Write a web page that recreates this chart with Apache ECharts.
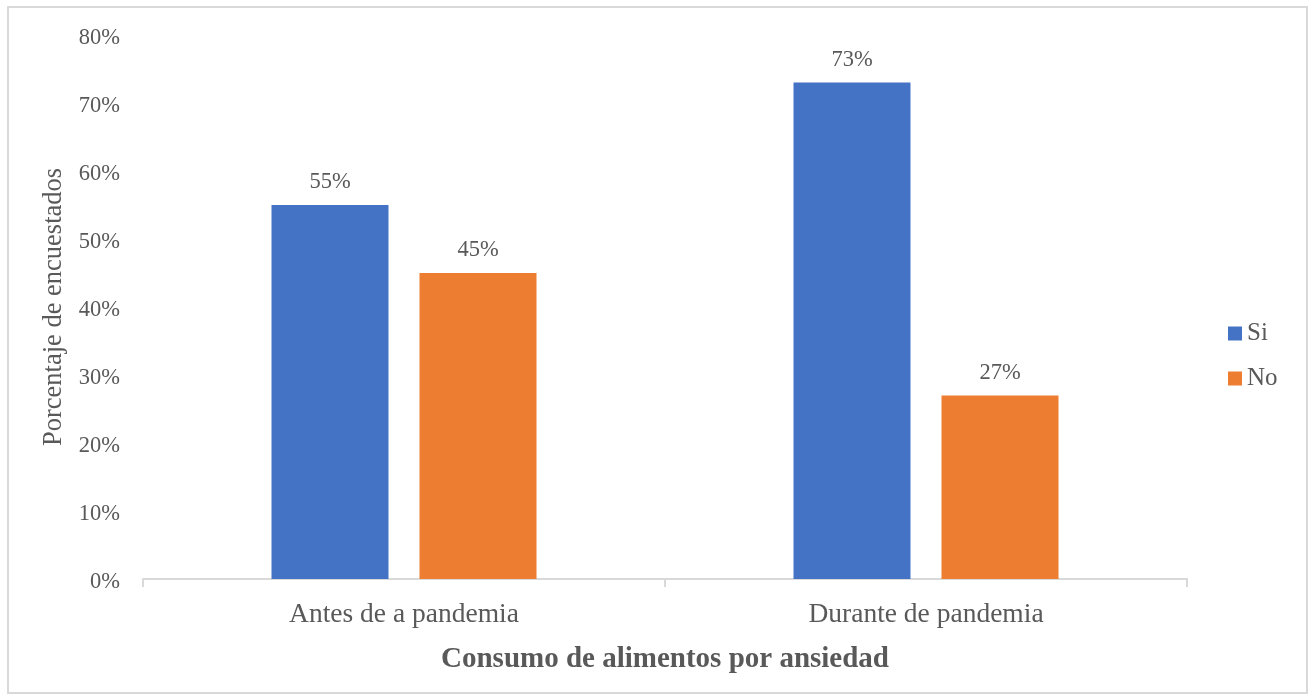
<!DOCTYPE html>
<html>
<head>
<meta charset="utf-8">
<script src="https://cdn.jsdelivr.net/npm/echarts@6/dist/echarts.min.js"></script>
<style>
  html, body { margin: 0; padding: 0; background: #fff; }
  #frame { position: absolute; left: 7px; top: 6px; width: 1297px; height: 684px; border: 2px solid #d9d9d9; }
  #chart { position: absolute; left: 0; top: 0; width: 1312px; height: 698px; }
</style>
</head>
<body>
<div id="frame"></div>
<div id="chart"></div>
<script>
// Encuesta: consumo de alimentos por ansiedad, antes y durante la pandemia
const categories = ['Antes de a pandemia', 'Durante de pandemia'];
const siValues = [55, 73];
const noValues = [45, 27];
const yTicks = [0, 10, 20, 30, 40, 50, 60, 70, 80];

const font = '"Liberation Serif", "Times New Roman", serif';
const textColor = '#595959';

const chart = echarts.init(document.getElementById('chart'), null, { renderer: 'canvas' });

const labelStyle = {
  show: true,
  position: 'top',
  distance: 11,
  formatter: p => p.value + '%',
  fontFamily: font,
  fontSize: 22.5,
  color: textColor
};

chart.setOption({
  animation: false,
  textStyle: { fontFamily: font },
  grid: { left: 143, right: 125, top: 35, bottom: 119, containLabel: false },
  legend: {
    orient: 'vertical',
    left: 1228,
    top: 321,
    padding: 0,
    itemWidth: 14,
    itemHeight: 14,
    itemGap: 20,
    icon: 'rect',
    textStyle: { fontFamily: font, fontSize: 25, color: textColor },
    data: ['Si', 'No']
  },
  xAxis: {
    type: 'category',
    data: categories,
    name: 'Consumo de alimentos por ansiedad',
    nameLocation: 'middle',
    nameGap: 66,
    nameTextStyle: { fontFamily: font, fontSize: 29, fontWeight: 'bold', color: textColor },
    axisLine: { lineStyle: { color: '#d9d9d9', width: 2 } },
    axisTick: { show: true, length: 8, alignWithLabel: false, lineStyle: { color: '#d9d9d9', width: 2 } },
    axisLabel: { fontFamily: font, fontSize: 27.5, color: textColor, margin: 22 }
  },
  yAxis: {
    type: 'value',
    min: yTicks[0],
    max: yTicks[yTicks.length - 1],
    interval: 10,
    name: 'Porcentaje de encuestados',
    nameLocation: 'middle',
    nameGap: 67,
    nameRotate: 90,
    nameTextStyle: { fontFamily: font, fontSize: 26.5, color: textColor },
    axisLine: { show: false },
    axisTick: { show: false },
    splitLine: { show: false },
    axisLabel: {
      fontFamily: font, fontSize: 22.5, color: textColor, margin: 23,
      verticalAlign: 'top',
      lineHeight: 6,
      formatter: v => v + '%'
    }
  },
  series: [
    {
      name: 'Si',
      type: 'bar',
      data: siValues,
      barWidth: 117,
      barGap: '26.5%',
      itemStyle: { color: '#4472c4' },
      label: labelStyle
    },
    {
      name: 'No',
      type: 'bar',
      data: noValues,
      barWidth: 117,
      barGap: '26.5%',
      itemStyle: { color: '#ed7d31' },
      label: labelStyle
    }
  ]
});
</script>
</body>
</html>
